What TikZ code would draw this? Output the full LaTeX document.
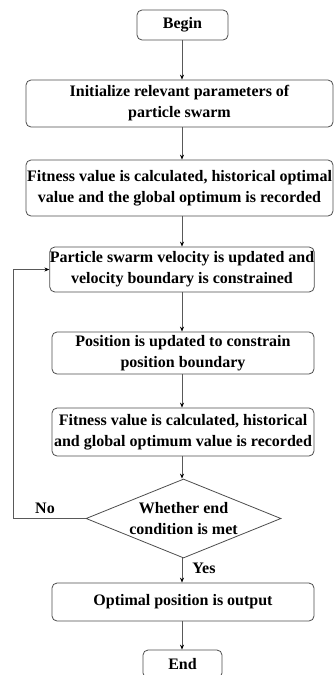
\documentclass[tikz,border=0pt]{standalone}
\usepackage{fontspec}
\setmainfont{Liberation Serif}
\usetikzlibrary{shapes.geometric,arrows.meta}

\begin{document}
\begin{tikzpicture}[x=1pt,y=-1pt]

\tikzset{box/.style={draw=black!70,line width=0.8,rounded corners=5,align=center,
  inner sep=0pt,font=\bfseries\fontsize{16}{21}\selectfont},
%arrows between the boxes
link/.style={draw=black!65,line width=0.8,-{Stealth[length=5pt,width=4pt,black]}}}

\useasboundingbox (0,0) rectangle (334,675);

\node [box,minimum width=91,minimum height=30] (begin) at (182.5,25) {Begin};
\node [box,minimum width=307,minimum height=47] (init) at (179.5,103.5) {Initialize relevant parameters of\\particle swarm};
\node [box,minimum width=307,minimum height=56] (fit1) at (179.5,188) {Fitness value is calculated, historical optimal\\value and the global optimum is recorded};
\node [box,minimum width=264,minimum height=45] (vel) at (182,269.5) {Particle swarm velocity is updated and\\velocity boundary is constrained};
\node [box,minimum width=262,minimum height=42] (pos) at (183,353) {Position is updated to constrain\\position boundary};
\node [box,minimum width=262,minimum height=48] (fit2) at (183,432) {Fitness value is calculated, historical\\and global optimum value is recorded};
\node [box,diamond,rounded corners=0,aspect=2.47,minimum width=195,minimum height=79] (check) at (183.5,518.5) {Whether end\\condition is met};
\node [box,minimum width=79,minimum height=28] (end) at (182.5,664) {End};
\node [box,minimum width=262,minimum height=38] (opt) at (183,602) {Optimal position is output};

\node [font=\bfseries\fontsize{16}{18}\selectfont] (no) at (45,508) {No};
\node [font=\bfseries\fontsize{16}{18}\selectfont] (yes) at (204,568) {Yes};

\draw [link] (begin.south -| 182,0) -- (init.north -| 182,0);
\draw [link] (init.south -| 182,0) -- (fit1.north -| 182,0);
\draw [link] (fit1.south -| 182,0) -- (vel.north -| 182,0);
\draw [link] (vel.south -| 182,0) -- (pos.north -| 182,0);
\draw [link] (pos.south -| 182,0) -- (fit2.north -| 182,0);
\draw [link] (fit2.south -| 182,0) -- (check.north -| 182,0);
\draw [link] (check.south -| 182,0) -- (opt.north -| 182,0);
\draw [link] (opt.south -| 182,0) -- (end.north -| 182,0);

\draw [link] (check.west) -- (13,518.5) |- (vel.west);

\end{tikzpicture}
\end{document}
